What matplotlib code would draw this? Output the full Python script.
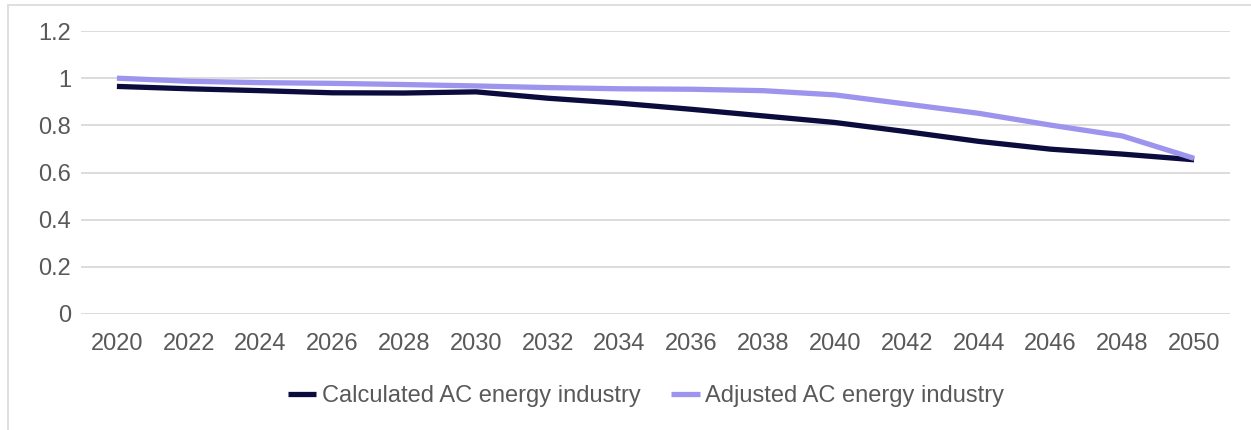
import matplotlib
matplotlib.use("Agg")
import matplotlib.pyplot as plt
from matplotlib.patches import Rectangle

years = [2020, 2022, 2024, 2026, 2028, 2030, 2032, 2034, 2036, 2038,
         2040, 2042, 2044, 2046, 2048, 2050]
calculated = [0.965, 0.955, 0.947, 0.938, 0.937, 0.942, 0.915, 0.894, 0.868, 0.840,
              0.812, 0.773, 0.732, 0.699, 0.678, 0.654]
adjusted = [1.000, 0.987, 0.981, 0.978, 0.973, 0.967, 0.960, 0.955, 0.953, 0.947,
            0.929, 0.890, 0.851, 0.801, 0.755, 0.660]
y_ticks = [0, 0.2, 0.4, 0.6, 0.8, 1.0, 1.2]
y_labels = ["0", "0.2", "0.4", "0.6", "0.8", "1", "1.2"]

plt.rcParams["font.family"] = ["Liberation Sans", "DejaVu Sans"]
W, H = 1251, 430
fig = plt.figure(figsize=(W / 100, H / 100), dpi=100)

# outer chart frame
fig.patches.append(Rectangle((8 / W, -0.1), 1.2, 1.1 - 5 / H, transform=fig.transFigure,
                             fill=False, edgecolor="#d9d9d9", linewidth=1.2))

left, right, top, bottom = 81, 1230, 31, 314
ax = fig.add_axes([left / W, 1 - bottom / H, (right - left) / W, (bottom - top) / H])

x = list(range(len(years)))
ax.plot(x, calculated, color="#0b0b3d", linewidth=3.8, solid_joinstyle="round",
        solid_capstyle="butt", label="Calculated AC energy industry", zorder=3)
ax.plot(x, adjusted, color="#9d94ee", linewidth=3.8, solid_joinstyle="round",
        solid_capstyle="butt", label="Adjusted AC energy industry", zorder=3)

ax.set_xlim(-0.5, len(years) - 0.5)
ax.set_ylim(0, 1.2)
ax.set_yticks(y_ticks)
ax.set_yticklabels(y_labels)
ax.set_xticks(x)
ax.set_xticklabels([str(y) for y in years])
ax.grid(axis="y", color="#d9d9d9", linewidth=1.3)
ax.set_axisbelow(True)
for s in ax.spines.values():
    s.set_visible(False)
ax.tick_params(axis="both", length=0, labelsize=17, colors="#595959")
ax.tick_params(axis="y", pad=7)
ax.tick_params(axis="x", pad=14)

leg = fig.legend(loc="center", bbox_to_anchor=(646 / W, 1 - 396 / H), ncol=2, frameon=False,
                 fontsize=17, handlelength=1.2, handletextpad=0.25, columnspacing=1.3,
                 labelcolor="#595959")

fig.savefig("out.png", dpi=100)
